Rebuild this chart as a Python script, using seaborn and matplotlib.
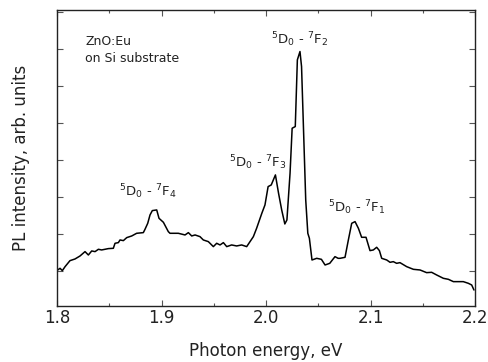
import matplotlib
matplotlib.use("Agg")
import matplotlib.pyplot as plt
import seaborn as sns
import pandas as pd
from matplotlib.ticker import MultipleLocator

energy = [1.8006, 1.8029, 1.8051, 1.8077, 1.8124, 1.8172, 1.8220, 1.8268, 1.8300, 1.8332,
          1.8364, 1.8396, 1.8427, 1.8491, 1.8539, 1.8555, 1.8587, 1.8603, 1.8635, 1.8667,
          1.8715, 1.8762, 1.8826, 1.8842, 1.8868, 1.8890, 1.8912, 1.8954, 1.8976, 1.9018,
          1.9065, 1.9081, 1.9161, 1.9225, 1.9257, 1.9289, 1.9321, 1.9368, 1.9400, 1.9448,
          1.9496, 1.9528, 1.9560, 1.9592, 1.9624, 1.9671, 1.9719, 1.9767, 1.9815, 1.9847,
          1.9879, 1.991, 1.996, 1.999, 2.002, 2.005, 2.009, 2.012, 2.015, 2.018,
          2.020, 2.023, 2.025, 2.028, 2.030, 2.0325, 2.034, 2.036, 2.038, 2.040,
          2.0415, 2.044, 2.0485, 2.053, 2.0565, 2.061, 2.066, 2.069, 2.0708, 2.0756,
          2.0788, 2.0820, 2.0852, 2.0884, 2.0915, 2.0957, 2.0995, 2.1027, 2.1059, 2.1085,
          2.1107, 2.1155, 2.1187, 2.1218, 2.1250, 2.1282, 2.1346, 2.1410, 2.1474, 2.1537,
          2.1585, 2.1633, 2.1697, 2.1745, 2.1793, 2.1856, 2.1888, 2.1936, 2.1968, 2.1990]
intensity = [0.027, 0.072, 0.009, 0.117, 0.279, 0.324, 0.405, 0.523, 0.432, 0.541,
             0.523, 0.586, 0.568, 0.604, 0.613, 0.748, 0.766, 0.838, 0.820, 0.901,
             0.946, 1.018, 1.036, 1.126, 1.288, 1.514, 1.631, 1.649, 1.423, 1.315,
             1.063, 1.018, 1.018, 0.973, 1.036, 0.946, 0.973, 0.928, 0.838, 0.793,
             0.658, 0.748, 0.703, 0.766, 0.658, 0.703, 0.676, 0.703, 0.658, 0.793,
             0.928, 1.153, 1.559, 1.784, 2.279, 2.324, 2.595, 2.099, 1.649, 1.270,
             1.378, 2.640, 3.856, 3.901, 5.703, 5.928, 5.523, 3.721, 1.919, 1.018,
             0.883, 0.297, 0.342, 0.315, 0.162, 0.207, 0.387, 0.342, 0.342, 0.369,
             0.838, 1.288, 1.333, 1.153, 0.910, 0.910, 0.550, 0.568, 0.640, 0.550,
             0.342, 0.297, 0.234, 0.252, 0.207, 0.225, 0.117, 0.045, 0.027, -0.045,
             -0.036, -0.108, -0.198, -0.225, -0.288, -0.288, -0.288, -0.333, -0.378, -0.514]

peak_labels = [r'$^5$D$_0$ - $^7$F$_4$', r'$^5$D$_0$ - $^7$F$_3$',
               r'$^5$D$_0$ - $^7$F$_2$', r'$^5$D$_0$ - $^7$F$_1$']
peak_x = [1.887, 1.992, 2.0325, 2.087]
peak_y = [2.14, 2.92, 6.24, 1.70]

sns.set_style("ticks")
plt.rcParams['font.family'] = ['DejaVu Sans']
plt.rcParams['mathtext.fontset'] = 'dejavusans'

df = pd.DataFrame({"energy": energy, "intensity": intensity})

fig = plt.figure(figsize=(4.89, 3.62), dpi=100)
ax = fig.add_axes([0.1166, 0.1547, 0.8548, 0.8177])
sns.lineplot(data=df, x="energy", y="intensity", color="black", lw=1.1, ax=ax)

ax.set_xlim(1.8, 2.2)
ax.set_ylim(-0.946, 7.05)
ax.xaxis.set_major_locator(MultipleLocator(0.1))
ax.xaxis.set_minor_locator(MultipleLocator(0.05))
ax.yaxis.set_major_locator(MultipleLocator(1))
ax.set_yticklabels([])
ax.tick_params(axis='both', which='both', direction='in', top=True, right=True,
               color='#555555')
ax.tick_params(axis='both', which='major', length=4, width=0.8)
ax.tick_params(axis='both', which='minor', length=2.5, width=0.8)
ax.tick_params(axis='x', labelsize=12, pad=2, labelcolor='#222222')
for s in ax.spines.values():
    s.set_linewidth(1.0)
    s.set_color('#222222')

ax.set_xlabel("Photon energy, eV", fontsize=12, labelpad=11, color='#222222')
ax.set_ylabel("PL intensity, arb. units", fontsize=12, labelpad=16, color='#222222')

for lab, xx, yy in zip(peak_labels, peak_x, peak_y):
    ax.text(xx, yy, lab, ha='center', va='center', fontsize=9.5, color='#222222')

ax.text(0.067, 0.865, "ZnO:Eu\non Si substrate", transform=ax.transAxes,
        fontsize=9, va='center', ha='left', linespacing=1.45, color='#222222')

fig.savefig("out.png", dpi=100)
